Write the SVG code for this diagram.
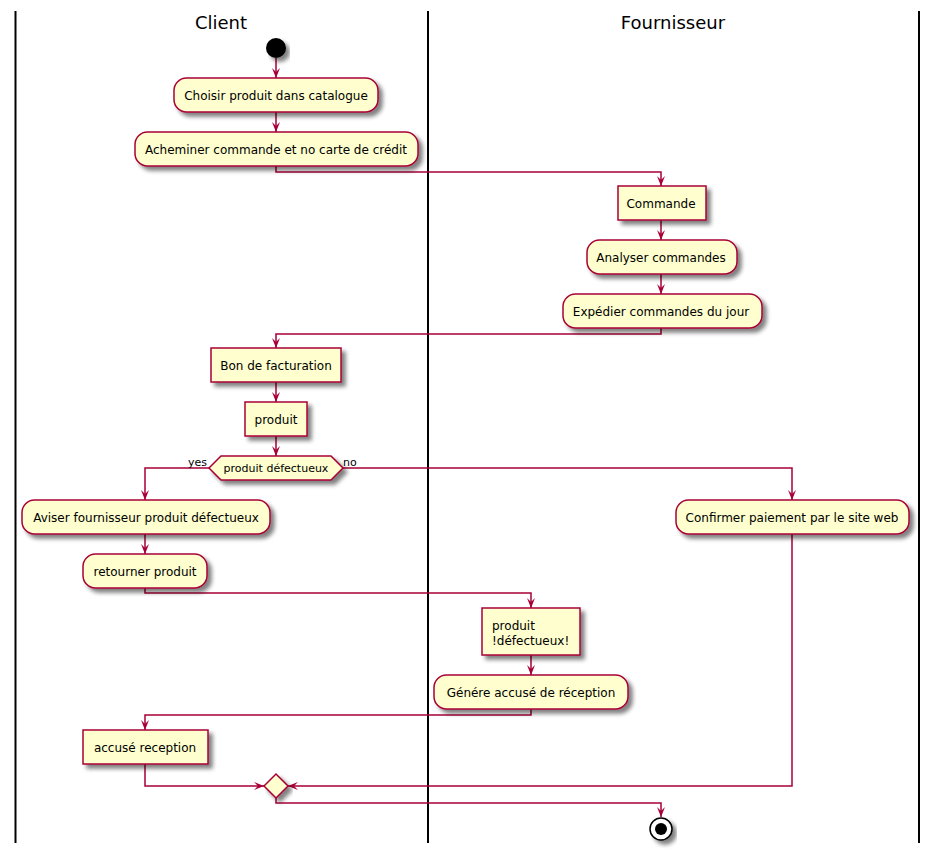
<svg xmlns="http://www.w3.org/2000/svg" width="938" height="856" viewBox="0 0 938 856">
<defs>
<filter id="sh" x="-10%" y="-20%" width="130%" height="160%">
<feGaussianBlur in="SourceAlpha" stdDeviation="2"/>
<feOffset dx="4" dy="4" result="b"/>
<feComponentTransfer><feFuncA type="linear" slope="0.5"/></feComponentTransfer>
<feMerge><feMergeNode/><feMergeNode in="SourceGraphic"/></feMerge>
</filter>
<marker id="ah" viewBox="0 0 10 10" refX="10" refY="5" markerWidth="10" markerHeight="10" markerUnits="userSpaceOnUse" orient="auto">
<path d="M0,1 L10,5 L0,9 L4,5 Z" fill="#A80036"/>
</marker>
</defs>
<style>
.n{fill:#FEFECE;stroke:#A80036;stroke-width:1.5;filter:url(#sh)}
.t{font-family:"DejaVu Sans",sans-serif;font-size:12px;fill:#000;text-anchor:middle}
.tl{font-family:"DejaVu Sans",sans-serif;font-size:12px;fill:#000;text-anchor:start}
.s{font-family:"DejaVu Sans",sans-serif;font-size:11px;fill:#000}
.lane{stroke:#000;stroke-width:2}
.lt{font-family:"DejaVu Sans",sans-serif;font-size:18px;fill:#000;text-anchor:middle}
.c{fill:none;stroke:#A80036;stroke-width:1.5}
</style>
<rect width="938" height="856" fill="#fff"/>
<g id="lanes">
<line class="lane" x1="15.5" y1="11" x2="15.5" y2="843"/>
<line class="lane" x1="428" y1="11" x2="428" y2="843"/>
<line class="lane" x1="919" y1="11" x2="919" y2="843"/>
<text class="lt" x="221" y="29">Client</text>
<text class="lt" x="673" y="29">Fournisseur</text>
</g>
<g id="connectors">
<path class="c" d="M276,58 V78" marker-end="url(#ah)"/>
<path class="c" d="M276,112 V132" marker-end="url(#ah)"/>
<path class="c" d="M276,166 V172 H661 V186" marker-end="url(#ah)"/>
<path class="c" d="M661,220 V240" marker-end="url(#ah)"/>
<path class="c" d="M661,274 V294" marker-end="url(#ah)"/>
<path class="c" d="M661,328 V334 H276 V348" marker-end="url(#ah)"/>
<path class="c" d="M276,382 V402" marker-end="url(#ah)"/>
<path class="c" d="M276,436 V456" marker-end="url(#ah)"/>
<path class="c" d="M209,468 H145 V500" marker-end="url(#ah)"/>
<path class="c" d="M145,534 V554" marker-end="url(#ah)"/>
<path class="c" d="M145,588 V593 H531 V608" marker-end="url(#ah)"/>
<path class="c" d="M531,655 V675" marker-end="url(#ah)"/>
<path class="c" d="M531,709 V715 H145 V730" marker-end="url(#ah)"/>
<path class="c" d="M145,764 V786 H264" marker-end="url(#ah)"/>
<path class="c" d="M343,468 H792 V500" marker-end="url(#ah)"/>
<path class="c" d="M792,534 V786 H288" marker-end="url(#ah)"/>
<path class="c" d="M276,798 V803 H661 V817" marker-end="url(#ah)"/>
<text class="s" x="188" y="466">yes</text>
<text class="s" x="343" y="466">no</text>
</g>
<g id="start"><circle cx="276" cy="48" r="10" fill="#000" filter="url(#sh)"/></g>
<g id="choisir"><rect class="n" x="174" y="78" width="204" height="34" rx="12.5"/><text class="t" x="276" y="100">Choisir produit dans catalogue</text></g>
<g id="acheminer"><rect class="n" x="135" y="132" width="283" height="34" rx="12.5"/><text class="t" x="276" y="154">Acheminer commande et no carte de crédit</text></g>
<g id="commande"><rect class="n" x="618" y="186" width="88" height="34"/><text class="t" x="661" y="208">Commande</text></g>
<g id="analyser"><rect class="n" x="587" y="240" width="150" height="34" rx="12.5"/><text class="t" x="661" y="262">Analyser commandes</text></g>
<g id="expedier"><rect class="n" x="563" y="294" width="199" height="34" rx="12.5"/><text class="t" x="661" y="316">Expédier commandes du jour</text></g>
<g id="bon"><rect class="n" x="211" y="348" width="130" height="34"/><text class="t" x="276" y="370">Bon de facturation</text></g>
<g id="produit"><rect class="n" x="245" y="402" width="62" height="34"/><text class="t" x="276" y="424">produit</text></g>
<g id="decision"><polygon class="n" points="209,468 221,456 331,456 343,468 331,480 221,480"/><text class="s" x="276" y="472" text-anchor="middle">produit défectueux</text></g>
<g id="aviser"><rect class="n" x="22" y="500" width="248" height="34" rx="12.5"/><text class="t" x="146" y="522">Aviser fournisseur produit défectueux</text></g>
<g id="retourner"><rect class="n" x="83" y="554" width="124" height="34" rx="12.5"/><text class="t" x="145" y="576">retourner produit</text></g>
<g id="produitdef"><rect class="n" x="482" y="608" width="98" height="47"/><text class="tl" x="492" y="630">produit</text><text class="tl" x="492" y="645">!défectueux!</text></g>
<g id="genere"><rect class="n" x="434" y="675" width="194" height="34" rx="12.5"/><text class="t" x="531" y="697">Génére accusé de réception</text></g>
<g id="accuse"><rect class="n" x="83" y="730" width="125" height="34"/><text class="t" x="145" y="752">accusé reception</text></g>
<g id="confirmer"><rect class="n" x="676" y="500" width="233" height="34" rx="12.5"/><text class="t" x="792" y="522">Confirmer paiement par le site web</text></g>
<g id="merge"><polygon class="n" points="264,786 276,774 288,786 276,798"/></g>
<g id="end"><circle cx="661" cy="829" r="11" fill="#fff" stroke="#000" stroke-width="1.5" filter="url(#sh)"/><circle cx="661" cy="829" r="6" fill="#000"/></g>
</svg>
